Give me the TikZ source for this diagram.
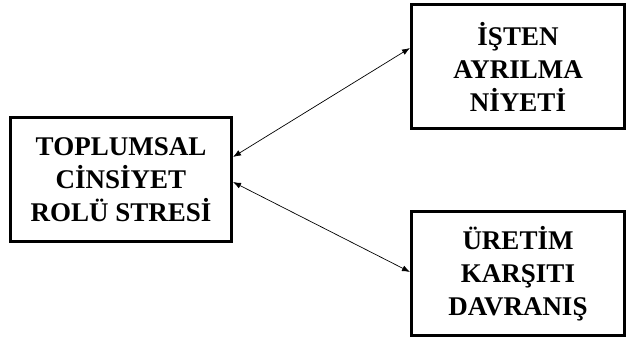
\documentclass[tikz,border=0pt]{standalone}
\usepackage{fontspec}
\setmainfont{Liberation Serif}
\usetikzlibrary{arrows.meta}
\begin{document}
\begin{tikzpicture}[x=1pt,y=1pt,
        kutu/.style = {draw, line width = 3pt, align = center,
            minimum width = 219pt, minimum height = 124pt,
            font = \fontsize{27}{33}\selectfont\bfseries},
        ok/.style = {{Latex[length=8pt,width=6pt]}-{Latex[length=8pt,width=6pt]}, line width = 0.7pt}]
        \useasboundingbox (0,0) rectangle (628,342);
        \node[kutu, minimum width = 221pt] (stres) at (121,162) {TOPLUMSAL\\CİNSİYET\\ROLÜ STRESİ};
        \node[kutu, minimum width = 213pt] (niyet) at (518,275.5) {İŞTEN\\AYRILMA\\NİYETİ};
        \node[kutu, minimum width = 213pt] (davranis) at (518,68) {ÜRETİM\\KARŞITI\\DAVRANIŞ};
        \draw[ok] ([yshift=23pt]stres.east) -- ([yshift=18.5pt]niyet.west);
        \draw[ok] ([yshift=-2pt]stres.east) -- ([yshift=2pt]davranis.west);
    \end{tikzpicture}
\end{document}
